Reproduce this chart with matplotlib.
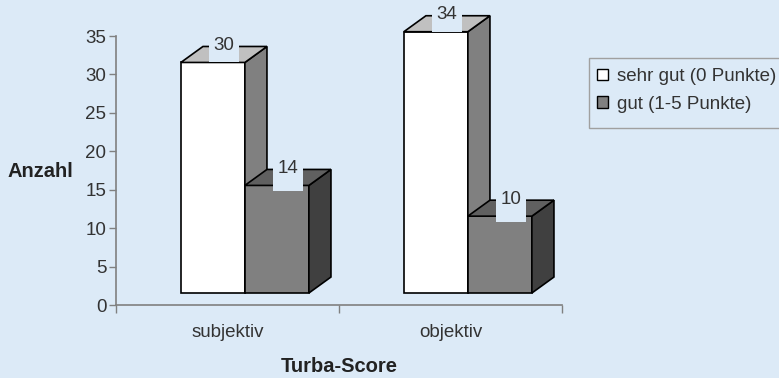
import matplotlib.pyplot as plt
from matplotlib.patches import Polygon, Rectangle, Patch

# Turba-Score: Anzahl je Bewertung, subjektiv vs. objektiv
categories = ['subjektiv', 'objektiv']
series_names = ['sehr gut (0 Punkte)', 'gut (1-5 Punkte)']
sehr_gut = [30, 34]
gut = [14, 10]
yticks = [0, 5, 10, 15, 20, 25, 30, 35]

BG = '#dceaf7'
BAR_W = 0.287      # bar width in category units
OFFSETS = [0.291, 0.578]
DX, DY = 0.099, 2.08   # depth of the pseudo-3d bars
BASE = 1.56            # front face sits a bit above the floor
COLORS = [('white', '#808080', '#c0c0c0'),
          ('#808080', '#404040', '#606060')]
CUT = [0.0, 0.78]      # how far the label box bites into the front face

plt.rcParams['font.family'] = ['Liberation Sans', 'DejaVu Sans']


def bar3d(ax, x, h, front, side, top):
    x0, x1 = x, x + BAR_W
    y0, y1 = BASE, BASE + h
    faces = [
        ([(x0, y0), (x1, y0), (x1, y1), (x0, y1)], front),
        ([(x1, y0), (x1 + DX, y0 + DY), (x1 + DX, y1 + DY), (x1, y1)], side),
        ([(x0, y1), (x1, y1), (x1 + DX, y1 + DY), (x0 + DX, y1 + DY)], top),
    ]
    for pts, c in faces:
        ax.add_patch(Polygon(pts, closed=True, fc=c, ec='black', lw=1.2,
                             joinstyle='miter', clip_on=False, zorder=2))


def value_label(ax, x, h, cut):
    xc = x + BAR_W / 2 + DX / 2
    yc = BASE + h + DY + 0.1
    bottom = BASE + h - cut
    ax.add_patch(Rectangle((xc - 0.0673, bottom), 0.1345, yc + 1.3 - bottom,
                           fc=BG, ec='none', clip_on=False, zorder=3))
    ax.text(xc, yc, str(h), ha='center', va='center', fontsize=13.5,
            color='#333333', zorder=4)


W, H = 779, 378
fig = plt.figure(figsize=(W / 100, H / 100), dpi=100, facecolor=BG)
ax = fig.add_axes([0.1489, 0.1931, 0.5725, 0.7116])
ax.patch.set_visible(False)

for i in range(len(categories)):
    for j, vals in enumerate([sehr_gut, gut]):
        bar3d(ax, i + OFFSETS[j], vals[i], *COLORS[j])
    for j, vals in enumerate([sehr_gut, gut]):
        value_label(ax, i + OFFSETS[j], vals[i], CUT[j])

ax.set_xlim(0, len(categories))
ax.set_ylim(0, 35)
ax.set_yticks(yticks)
ax.set_xticks(range(len(categories) + 1))
ax.set_xticklabels([])
ax.set_xticks([i + 0.5 for i in range(len(categories))], minor=True)
ax.set_xticklabels(categories, minor=True)

for side in ['top', 'right']:
    ax.spines[side].set_visible(False)
for side in ['left', 'bottom']:
    ax.spines[side].set_color('#808080')
    ax.spines[side].set_linewidth(1.2)

ax.tick_params(axis='y', direction='out', length=5, width=1, color='#808080',
               labelsize=13.5, labelcolor='#333333', pad=2)
ax.tick_params(axis='x', which='major', direction='out', length=6, width=1,
               color='#808080')
ax.tick_params(axis='x', which='minor', length=0, pad=14, labelsize=13.5,
               labelcolor='#333333')

ax.set_ylabel('Anzahl', rotation=0, fontsize=14.5, fontweight='bold',
              color='#222222', ha='center', va='center')
ax.yaxis.set_label_coords(-0.17, 0.495)
ax.set_xlabel('Turba-Score', fontsize=14.5, fontweight='bold',
              color='#222222', va='center')
ax.xaxis.set_label_coords(0.5, -0.23)

# legend frame drawn separately, it has extra room below the entries
fig.patches.append(Rectangle((589 / W, 1 - 128 / H), 200 / W, 70 / H,
                             transform=fig.transFigure, fc=BG, ec='#a0a0a0',
                             lw=1, zorder=0))
handles = [Patch(fc='white', ec='black', lw=1), Patch(fc='#808080', ec='black', lw=1)]
fig.legend(handles, series_names, loc='upper left',
           bbox_to_anchor=(589 / W, 1 - 60 / H), frameon=False,
           handlelength=0.55, handleheight=0.55, handletextpad=0.5,
           borderpad=0.45, labelspacing=0.55, fontsize=13.5, borderaxespad=0,
           labelcolor='#333333')

fig.savefig('out.png', dpi=100, facecolor=BG)
